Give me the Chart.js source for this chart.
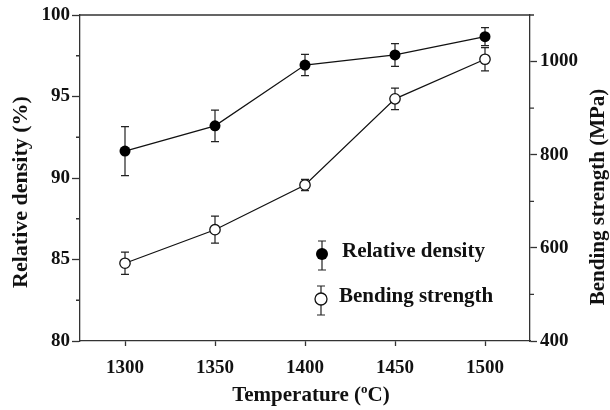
<!DOCTYPE html>
<html lang="en">
<head>
    <meta charset="UTF-8">
    <title>Relative density and bending strength</title>
    <style>
        body { margin: 0; background: #fff; }
    </style>
</head>
<body>
<canvas id="myChart" width="610" height="410"></canvas>
<script src="https://cdn.jsdelivr.net/npm/chart.js@4.4.1/dist/chart.umd.min.js"></script>
<script>
    let temps = [1300, 1350, 1400, 1450, 1500];
    let density = [91.65, 93.2, 96.93, 97.55, 98.67];
    let densityErr = [1.5, 0.97, 0.65, 0.7, 0.55];
    let strength = [567, 639, 735, 920, 1005];
    let strengthErr = [24, 29, 12, 23, 25];
    let densityTicks = [80, 85, 90, 95, 100];
    let strengthTicks = [400, 600, 800, 1000];

    let FONT = '"Liberation Serif", "Times New Roman", serif';
    let AXIS = '#333';

    // error bars, minor ticks, frame top, right title, x title, legend
    let extras = {
        id: 'extras',
        afterDatasetsDraw(chart) {
            let ctx = chart.ctx;
            let x = chart.scales.x;
            ctx.save();
            ctx.strokeStyle = '#222';
            ctx.lineWidth = 1.2;
            let sets = [[density, densityErr, chart.scales.y], [strength, strengthErr, chart.scales.y2]];
            sets.forEach(([vals, errs, sc]) => {
                vals.forEach((v, i) => {
                    let px = x.getPixelForValue(temps[i]);
                    let top = sc.getPixelForValue(v + errs[i]);
                    let bot = sc.getPixelForValue(v - errs[i]);
                    ctx.beginPath();
                    ctx.moveTo(px, top); ctx.lineTo(px, bot);
                    ctx.moveTo(px - 4, top); ctx.lineTo(px + 4, top);
                    ctx.moveTo(px - 4, bot); ctx.lineTo(px + 4, bot);
                    ctx.stroke();
                });
            });
            // redraw markers over bars
            let meta0 = chart.getDatasetMeta(0), meta1 = chart.getDatasetMeta(1);
            meta0.data.forEach(p => {
                ctx.beginPath(); ctx.arc(p.x, p.y, 5.5, 0, Math.PI * 2);
                ctx.fillStyle = '#000'; ctx.fill();
            });
            meta1.data.forEach(p => {
                ctx.beginPath(); ctx.arc(p.x, p.y, 5.2, 0, Math.PI * 2);
                ctx.fillStyle = '#fff'; ctx.fill();
                ctx.lineWidth = 1.3; ctx.strokeStyle = '#111'; ctx.stroke();
            });
            ctx.restore();
        },
        afterDraw(chart) {
            let ctx = chart.ctx;
            let a = chart.chartArea;
            let y = chart.scales.y, y2 = chart.scales.y2;
            ctx.save();
            ctx.strokeStyle = AXIS;
            ctx.lineWidth = 1.3;
            ctx.beginPath();
            ctx.moveTo(a.left, a.top); ctx.lineTo(a.right, a.top);
            for (let v = 82.5; v < 100; v += 5) {
                let py = y.getPixelForValue(v);
                ctx.moveTo(a.left - 4, py); ctx.lineTo(a.left, py);
            }
            for (let v = 500; v <= 1100; v += 200) {
                let py = y2.getPixelForValue(v);
                ctx.moveTo(a.right, py); ctx.lineTo(a.right + 4, py);
            }
            ctx.stroke();

            ctx.fillStyle = '#111';
            // right axis title, reading bottom to top
            ctx.font = 'bold 21px ' + FONT;
            ctx.textAlign = 'center';
            ctx.textBaseline = 'middle';
            ctx.save();
            ctx.translate(599, 197);
            ctx.rotate(-Math.PI / 2);
            ctx.fillText('Bending strength (MPa)', 0, 0);
            ctx.restore();

            // x title with superscript o
            ctx.textAlign = 'left';
            ctx.textBaseline = 'alphabetic';
            let p1 = 'Temperature (', p2 = 'o', p3 = 'C)';
            ctx.font = 'bold 21px ' + FONT;
            let w1 = ctx.measureText(p1).width, w3 = ctx.measureText(p3).width;
            ctx.font = 'bold 13px ' + FONT;
            let w2 = ctx.measureText(p2).width;
            let sx = 311 - (w1 + w2 + w3) / 2;
            let by = 401;
            ctx.font = 'bold 21px ' + FONT;
            ctx.fillText(p1, sx, by);
            ctx.font = 'bold 13px ' + FONT;
            ctx.fillText(p2, sx + w1, by - 8);
            ctx.font = 'bold 21px ' + FONT;
            ctx.fillText(p3, sx + w1 + w2, by);

            // legend
            let rows = [[322, 254, true, 'Relative density', 342], [321, 299, false, 'Bending strength', 339]];
            rows.forEach(([lx, ly, filled, label, tx]) => {
                ctx.strokeStyle = '#222';
                ctx.lineWidth = 1.2;
                ctx.beginPath();
                ctx.moveTo(lx, ly - 13); ctx.lineTo(lx, ly + 16);
                ctx.moveTo(lx - 4, ly - 13); ctx.lineTo(lx + 4, ly - 13);
                ctx.moveTo(lx - 4, ly + 16); ctx.lineTo(lx + 4, ly + 16);
                ctx.stroke();
                ctx.beginPath(); ctx.arc(lx, ly, 6, 0, Math.PI * 2);
                ctx.fillStyle = filled ? '#000' : '#fff';
                ctx.fill();
                if (!filled) { ctx.lineWidth = 1.3; ctx.strokeStyle = '#111'; ctx.stroke(); }
                ctx.fillStyle = '#111';
                ctx.font = 'bold 21px ' + FONT;
                ctx.textBaseline = 'middle';
                ctx.fillText(label, tx, ly - 2);
            });
            ctx.restore();
        }
    };

    let tickFont = {family: FONT, size: 19, weight: 'bold'};
    let plain = v => String(v);

    let ctx = document.getElementById('myChart').getContext('2d');
    new Chart(ctx, {
        type: 'line',
        data: {
            datasets: [
                {
                    label: 'Relative density',
                    data: temps.map((t, i) => ({x: t, y: density[i]})),
                    yAxisID: 'y',
                    borderColor: '#111',
                    borderWidth: 1.2,
                    pointRadius: 0,
                    fill: false
                },
                {
                    label: 'Bending strength',
                    data: temps.map((t, i) => ({x: t, y: strength[i]})),
                    yAxisID: 'y2',
                    borderColor: '#111',
                    borderWidth: 1.2,
                    pointRadius: 0,
                    fill: false
                }
            ]
        },
        options: {
            responsive: false,
            animation: false,
            layout: {padding: {top: 15, left: 0, right: 0, bottom: 0}},
            plugins: {legend: {display: false}, tooltip: {enabled: false}},
            scales: {
                x: {
                    type: 'linear',
                    min: 1275,
                    max: 1525,
                    afterBuildTicks: s => { s.ticks = temps.map(v => ({value: v})); },
                    afterFit: s => { s.height = 69; },
                    grid: {drawOnChartArea: false, tickLength: 5, tickColor: AXIS, tickWidth: 1.3},
                    border: {color: AXIS, width: 1.3},
                    ticks: {color: '#111', font: tickFont, padding: 11, maxRotation: 0, callback: plain}
                },
                y: {
                    position: 'left',
                    min: 80,
                    max: 100,
                    afterBuildTicks: s => { s.ticks = densityTicks.map(v => ({value: v})); },
                    afterFit: s => { s.width = 80; },
                    grid: {drawOnChartArea: false, tickLength: 8, tickColor: AXIS, tickWidth: 1.3},
                    border: {color: AXIS, width: 1.3},
                    ticks: {color: '#111', font: tickFont, padding: 2, callback: plain}
                },
                y2: {
                    position: 'right',
                    min: 400,
                    max: 1100,
                    afterBuildTicks: s => { s.ticks = strengthTicks.map(v => ({value: v})); },
                    afterFit: s => { s.width = 80; },
                    grid: {drawOnChartArea: false, tickLength: 7, tickColor: AXIS, tickWidth: 1.3},
                    border: {color: AXIS, width: 1.3},
                    ticks: {color: '#111', font: tickFont, padding: 3, callback: plain}
                }
            }
        },
        plugins: [extras, {
            id: 'leftTitle',
            afterDraw(chart) {
                let c = chart.ctx;
                c.save();
                c.fillStyle = '#111';
                c.font = 'bold 22px ' + FONT;
                c.textAlign = 'center';
                c.textBaseline = 'middle';
                c.translate(21, 192);
                c.rotate(-Math.PI / 2);
                c.fillText('Relative density (%)', 0, 0);
                c.restore();
            }
        }]
    });
</script>
</body>
</html>
